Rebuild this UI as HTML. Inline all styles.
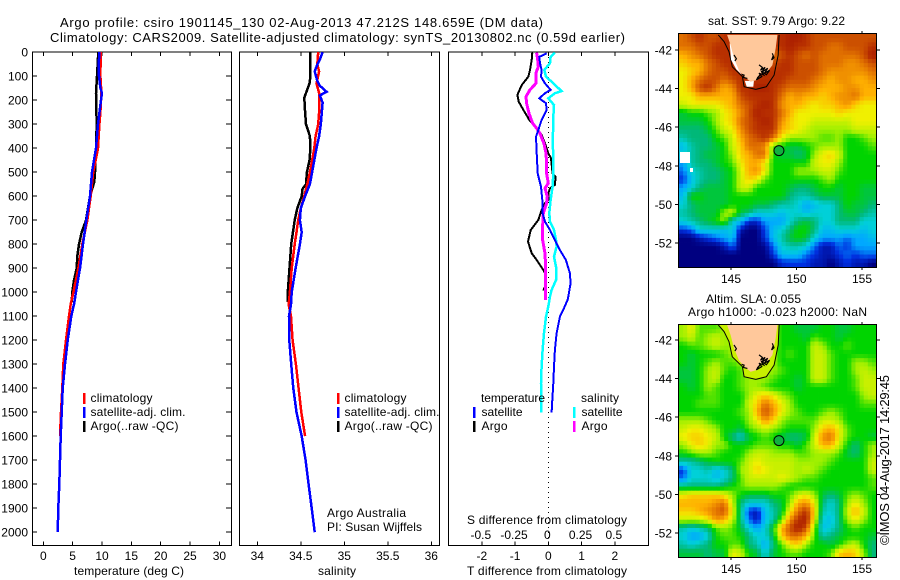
<!DOCTYPE html>
<html>
<head>
<meta charset="utf-8">
<title>Argo profile</title>
<style>
html,body{margin:0;padding:0;background:#fff;}
svg{display:block;}
text{font-family:"Liberation Sans",sans-serif;font-size:12px;fill:#000;}
.t13{font-size:13px;}
.r{text-anchor:end;}
.m{text-anchor:middle;}
</style>
</head>
<body>
<svg id="chart" width="900" height="580" viewBox="0 0 900 580" xmlns="http://www.w3.org/2000/svg">
<defs>
<clipPath id="clipA"><rect x="679" y="34" width="197" height="233"/></clipPath>
<clipPath id="clipB"><rect x="679" y="325" width="197" height="232"/></clipPath>
</defs>
<rect width="900" height="580" fill="#fff"/>

<text class="t13" x="60" y="27" textLength="483">Argo profile: csiro 1901145_130 02-Aug-2013 47.212S 148.659E (DM data)</text>
<text class="t13" x="50" y="42" textLength="575">Climatology: CARS2009. Satellite-adjusted climatology: synTS_20130802.nc (0.59d earlier)</text>

<g id="profiles"></g>

<text x="74" y="575" textLength="110">temperature (deg C)</text>
<text x="318" y="575" textLength="38">salinity</text>
<text x="467" y="524" textLength="160">S difference from climatology</text>
<text x="467" y="575" textLength="160">T difference from climatology</text>

<g>
<rect x="83" y="393" width="2.5" height="11" fill="#f00"/>
<text x="90.5" y="402" textLength="62">climatology</text>
<rect x="83" y="407" width="2.5" height="11" fill="#00f"/>
<text x="90.5" y="416" textLength="95">satellite-adj. clim.</text>
<rect x="83" y="421" width="2.5" height="11" fill="#000"/>
<text x="90.5" y="430" textLength="88">Argo(..raw -QC)</text>
</g>
<g>
<rect x="337" y="393" width="2.5" height="11" fill="#f00"/>
<text x="344.5" y="402" textLength="62">climatology</text>
<rect x="337" y="407" width="2.5" height="11" fill="#00f"/>
<text x="344.5" y="416" textLength="95">satellite-adj. clim.</text>
<rect x="337" y="421" width="2.5" height="11" fill="#000"/>
<text x="344.5" y="430" textLength="88">Argo(..raw -QC)</text>
</g>
<text x="327" y="517" textLength="79">Argo Australia</text>
<text x="327" y="531" textLength="95">PI: Susan Wijffels</text>

<g>
<text x="481" y="402" textLength="64">temperature</text>
<text x="581" y="402" textLength="38">salinity</text>
<rect x="473" y="407" width="2.5" height="11" fill="#00f"/>
<text x="481.5" y="416" textLength="41">satellite</text>
<rect x="473" y="421" width="2.5" height="11" fill="#000"/>
<text x="481.5" y="430" textLength="26">Argo</text>
<rect x="573" y="407" width="2.5" height="11" fill="#0ff"/>
<text x="581.5" y="416" textLength="41">satellite</text>
<rect x="573" y="421" width="2.5" height="11" fill="#f0f"/>
<text x="581.5" y="430" textLength="26">Argo</text>
</g>

<g id="mapA"></g>
<g id="mapB"></g>

<text x="708" y="25" textLength="137">sat. SST: 9.79 Argo: 9.22</text>
<text x="706" y="303" textLength="95">Altim. SLA: 0.055</text>
<text x="688" y="316" textLength="179">Argo h1000: -0.023 h2000: NaN</text>
<text class="t13" transform="translate(889,545) rotate(-90)" x="0" y="0" textLength="170">©IMOS 04-Aug-2017 14:29:45</text>
</svg>

<script>
// ---------- axis tick data ----------
const depthTicks = [0,100,200,300,400,500,600,700,800,900,1000,1100,1200,1300,1400,1500,1600,1700,1800,1900,2000];
const tempTicks = [0,5,10,15,20,25,30];
const salTicks = [34,34.5,35,35.5,36];
const salTickLabels = ['34','34.5','35','35.5','36'];
const tDiffTicks = [-2,-1,0,1,2];
const tDiffTickLabels = ['-2','-1','0','1','2'];
const sDiffTickLabels = ['-0.5','-0.25','0','0.25','0.5'];
const lonTicks = [145,150,155];
const latTicks = [-42,-44,-46,-48,-50,-52];

// ---------- temperature profiles ----------
const tempArgoDepth = [0,100,170,300,400,500,540,600,700,750,800,850,900,950,1000,1040];
const tempArgo = [9.37,9.15,8.97,9.1,8.98,8.8,8.69,7.96,7.27,6.54,6.08,5.8,5.69,5.23,4.94,4.84];
const tempClimDepth = [0,100,170,250,300,400,500,600,700,800,900,1000,1050,1100,1200,1300,1400,1500,1600];
const tempClim = [9.78,9.72,9.89,9.72,9.55,9.32,8.5,8.07,7.5,6.65,5.97,5.12,4.67,4.38,3.87,3.41,3.24,3.02,2.85];
const tempSatDepth = [0,50,100,150,170,200,300,400,500,600,700,800,900,1000,1050,1100,1200,1300,1400,1500,1600,1700,1800,1900,2000];
const tempSat = [9.55,9.43,9.49,9.72,10.0,9.83,9.32,8.98,8.3,7.96,7.33,6.76,6.25,5.57,5.23,4.77,4.15,3.7,3.3,3.13,2.96,2.85,2.73,2.56,2.45];

// ---------- salinity profiles ----------
const salArgoDepth = [0,100,130,170,190,250,300,350,400,450,500,550,570,600,650,700,800,900,1000,1040];
const salArgo = [34.61,34.61,34.6,34.56,34.54,34.55,34.56,34.605,34.61,34.6,34.57,34.56,34.52,34.51,34.46,34.43,34.39,34.37,34.35,34.35];
const salClimDepth = [0,50,80,130,170,250,300,350,400,450,500,550,600,650,700,750,800,900,1000,1050,1100,1200,1300,1400,1500,1600];
const salClim = [34.7,34.69,34.71,34.68,34.71,34.71,34.7,34.67,34.655,34.63,34.605,34.575,34.54,34.5,34.47,34.45,34.43,34.395,34.375,34.36,34.387,34.406,34.444,34.475,34.506,34.55];
const salSatDepth = [0,30,60,80,120,140,165,180,210,300,350,400,500,550,600,650,700,750,800,900,1000,1050,1100,1200,1300,1400,1500,1600,1700,1800,1900,2000];
const salSat = [34.75,34.72,34.68,34.66,34.69,34.72,34.797,34.72,34.75,34.73,34.71,34.68,34.63,34.605,34.55,34.5,34.49,34.51,34.49,34.44,34.395,34.387,34.364,34.368,34.39,34.414,34.45,34.51,34.555,34.59,34.625,34.66];

// ---------- difference profiles ----------
const tDiffArgoDepth = [2,32,74,102,137,178,206,241,282,317,345,380,421,442,505,519,553,567,588,616,630,657,699,741,789,838,866,907,921,977,993];
const tDiffArgo = [-0.48,-0.5,-0.55,-0.6,-0.8,-0.93,-0.89,-0.75,-0.57,-0.35,-0.2,-0.1,0,0.08,0.13,0.22,0.2,0.05,0,0,-0.1,-0.2,-0.3,-0.53,-0.61,-0.5,-0.35,-0.15,-0.1,-0.1,-0.15];
const tDiffSatDepth = [5,19,46,74,102,130,157,171,192,213,241,282,324,352,421,505,560,616,671,706,741,782,824,866,921,963,1018,1032,1067,1102,1171,1241,1310,1380,1449,1502];
const tDiffSat = [-0.05,-0.27,-0.25,-0.2,-0.22,-0.1,0.07,-0.1,-0.27,-0.07,-0.05,-0.2,-0.3,-0.37,-0.35,-0.32,-0.22,-0.18,-0.17,-0.1,0.05,0.2,0.35,0.53,0.65,0.67,0.6,0.58,0.47,0.35,0.25,0.2,0.17,0.15,0.12,0.1];
const sDiffSatDepth = [2,19,46,74,102,123,143,162,171,192,220,269,310,366,435,505,560,616,671,706,741,782,810,852,894,949,991,1018,1060,1102,1171,1241,1310,1380,1502];
const sDiffSat = [0.05,0.0175,0.0125,-0.03,-0.0175,0.025,0.0626,0.1,0.05,0,0.0426,0.0376,0.0376,0.0326,0.0376,0.0376,0.0326,0.0175,0.0075,0.0125,0.0426,0.0576,0.0627,0.0426,0.0576,0.0576,0.025,0.0125,0,-0.0175,-0.0326,-0.0426,-0.05,-0.055,-0.055];
const sDiffArgoDepth = [2,32,60,88,130,157,185,213,255,296,317,338,380,421,463,505,546,567,602,630,671,727,782,838,894,949,1033];
const sDiffArgo = [-0.088,-0.08,-0.075,-0.093,-0.093,-0.138,-0.168,-0.163,-0.145,-0.118,-0.088,-0.063,-0.033,-0.0175,-0.0125,-0.0125,0,-0.025,-0.0075,-0.0125,-0.0376,-0.0426,-0.0426,-0.025,-0.02,-0.0225,-0.0225];

// ---------- map grids (colour-scale index, north to south, west to east) ----------
const sstGrid = [
[9,9.5,10,9.5,9.5,10,10,10,10,10,10,10,10,10.5,10.5,10,9.5,9.5,9.5,9.5,9.5,9.5,9.5,9.5],
[9,9,9.5,9.5,10,10,10,10,10,10,10,10,10,10.5,10,10,9.5,9.5,9,9,9.5,9.5,9.5,10],
[8,8.5,9,9.5,10,10,10,10,10,10,10,9,9.5,10,9.5,9,9.5,9,9,9,9,9,9.5,10.5],
[7.5,8,8,9,9.5,10,10,10,10,10,10,9.5,10,10,9.5,9.5,9.5,9,9,9,8.5,8.5,9,9.5],
[7,7.5,8,9,9.5,9.5,10,10,10,10,10,10,10,10,9.5,9.5,9.5,9,8.5,8.5,8.5,8.5,8.5,9],
[7,8,9,9.5,9.5,9,9.5,10,10,10,10,10,10,9.5,9.5,9.5,9,8.5,8,8.5,8.5,8,8,8.5],
[7,8,9.5,10,9,8,8.5,10,10,10.5,10.5,10,9.5,9,9,9,8.5,8,8,8,8.5,8.5,8,8],
[7,7,8,8,8,8,8,9.5,10,10,10,10,9,8,8.5,8,8,7.5,8,8.5,8.5,9,8,8],
[6.5,7,7,7,7,7.5,8,9,9.5,10,10.5,10,8.5,8,8,7.5,7,7.5,7.5,8,8.5,7.5,7,7],
[4.5,5,5,5.5,6,7,7.5,8.5,9.5,10.5,10,10,9,8,7,7,7,7,7,7.5,7,7,7,7],
[4.5,4.5,4.5,5,6,7,7.5,9,9.5,10,10.5,10,8.5,7.5,7,7,6.5,6.5,6.5,6.5,6.5,7,7,7],
[4,4,4,4.5,5.5,6.5,7,8.5,9.5,10,10,10,8,7.5,7,6.5,6,6,6,6,6,6.5,6.5,6.5],
[3.5,4,4,4,5,5.5,6.5,8,9,9.5,10,9,7,6,6,6,6,5.5,5.5,6,5,5,5.5,6],
[2.5,3.5,4,4,4.5,5,6.5,7.5,9,9,8.5,5.5,5,4.5,4.5,5,5.5,6,6,6,5,5,5,5.5],
[3,3.5,4,4.5,4.5,5,6,7.5,8,9,9,5,4.5,4.5,4,4.5,6,7,7.5,6.5,5,5,5,5],
[2,3.5,4,4,4.5,5,5.5,7,8,8,7,5,5,5,5,5,6.5,7,7,6,5,5,5,5],
[1.5,3,3.5,4,4,4.5,5,6.5,8,8.5,7,5,5,5,6,6,6,6.5,6.5,5.5,5,5,5,5],
[1,2.5,3.5,4,4,4.5,5,6.5,7.5,7,5.5,5,5,5,5,5,5,5.5,6,5,5,5,5,5],
[2,3,4,4.5,4.5,4.5,5,6.5,6.5,5,5,5,5,4.5,4,4,4.5,5,5,4.5,5,5,4.5,4.5],
[2.5,5,5,4.5,4.5,4.5,5,5,5,5,5,5,5,4,3.5,3.5,4,4.5,4.5,4.5,5,5,4.5,4.5],
[3,4,4.5,4.5,4.5,4.5,5,5,5,4.5,4.5,4,3.5,3.5,3,2,2.5,3,3,4,5,4.5,4.5,4],
[3.5,4,4.5,4.5,4.5,6,6.5,4.5,4,3,3,3,2.5,3,3,2.5,3,3,3,4,4.5,4.5,4,3.5],
[3,3.5,4,4.5,5,6,3,2.5,0.8,0.8,2,2,2,3,4,4.5,4,3,3,4,4,4,3,3],
[1,1.5,3,3,3,2.5,3,0.5,0,0,1.2,2.5,3,4,5,5,4,2.5,2.5,3,3,3,2.5,3],
[0,0,0.5,1,1.5,2,2.5,0,0,0,1,2.5,3.5,4.5,5,4.5,3,2,2,2,1.5,2,2,2.5],
[0,0,0,0,0,0.5,1.5,0,0,0,0.2,1.5,3,3.5,3.5,3,1.5,0.5,0.5,1.5,1,2,2,2],
[0,0,0,0,0,0,0,0,0,0,0,1,2.5,2.5,2.5,1.5,1,0.5,0.5,1,1.5,1,1.5,1.5],
[0,0,0,0,0,0,0,0,0,0,0,0,0.8,1,1,1,0.5,0.5,0,0.5,1,0.5,0.5,0]
];
const slaGrid = [
[6,7,5.5,5.5,5.5,6,6,6,6,6,6,6,5,5,4.5,4.5,4.5,5,5,4.5,4.5,5,5,5],
[6,6.5,5.5,6,6.5,6,6,6,6,6,6,6,5,5,5,4.5,5.5,5,5,4.5,5,5,5,5],
[5,5.5,5.5,6,6.5,6,6,6,6,6,6,6,5,5,5,5,6.5,6,5,5,5.5,5,5,5],
[5,4.5,5,5,5,5.5,6,6,6,6,6,6,5,5.5,5,5,6.5,6.5,5.5,5,5,5,5,5],
[5,4.5,5,5.5,6,5.5,5.5,6,6,6,6,6,5,5,5,5,6.5,6.5,5.5,5,5,6,6,5.5],
[4.5,4.5,5,6,6.5,5.5,5,5.5,6,6,6,6,5.5,5,5,5,6.5,6.5,5.5,5,5,6,6.5,6],
[4.5,4.5,5,6,6.5,5,5,5.5,6,6,6,5.5,5,5,4.5,5,6.5,6.5,5.5,5,5,5.5,6.5,6.5],
[5,4.5,5,6,5.5,5,5,5.5,6,6,5.5,5,5,5,4.5,5,5,5,5,5,5,5.5,6.5,6.5],
[5,5,5,5.5,5.5,5,5,5,6,7,7.5,7,6,5.5,5,5,5,5,5,5,5,5,6,6.5],
[5,5,5.5,5.5,5.5,5,5,5,6.5,7.5,9,8,7,6,5,5,5,5,5,5,5,5,5.5,5.5],
[5,5,5,5,5,5,5,5.5,6,8,9.5,8.5,7,6,5.5,5,5,5.5,6,5.5,5,5,5,5],
[6,6,6,5.5,5,5,5,5,6,7,8.5,7.5,6,5.5,5.5,5.5,5.5,6.5,6.5,6,5,5,5,5],
[6.5,7,7,6.5,6,5,5,4.5,5.5,6,6.5,6,5.5,5,5,5,6,7.5,8,7,5.5,5,5,5],
[7,7.5,7.5,7,6.5,5,4,3,4.5,5,5.5,5,4.5,4,4,4.5,6.5,8.5,9,7,5.5,5,5,4.5],
[6,7,7.5,7,6,6,5,5,5,5.5,5.5,5.5,5,5,4.5,5.5,6.5,8,8,6.5,5,4,5,6],
[5,5.5,6,6,5.5,5,5,5,6,6.5,6.5,6,6,6,5.5,5.5,6,6,6,5.5,4.5,4,5,6],
[3.5,3.5,4,4.5,5,5,5,5.5,6.5,7,6.5,6.5,6.5,6.5,6,6,6,6,5.5,5,5,5,5,6.5],
[1,3,3,3.5,2.5,3,4,6,6.5,7.5,7,6.5,6.5,6.5,6,6.5,6,5.5,5,5,5,5,5,6.5],
[1.5,3,3,3,2.5,3,4,5.5,6.5,6.5,6.5,6.5,7,6.5,6,5.5,5.5,5,5,5,5,5,5,5.5],
[4,4,4,4,4,4.5,5,5.5,6,6,6,6,5.5,5,5,5,5,5,5,5,5,5,5,5.5],
[7,7.5,7.5,7.5,7.5,7,6,5,4.5,4.5,4.5,5,5,5.5,6.5,7,6,4.5,4,4.5,5.5,6,5.5,5],
[8,8,8,8,8.5,9,6.5,4,3,3,3,4,4.5,6,8,8.5,7,4,3,4,6,7,6,5],
[7.5,7.5,8,8.5,9,9.5,7,4,1,0.5,2.5,3.5,4.5,7,9,10,7.5,3.5,3,4,6.5,8,6.5,5],
[6.5,6.5,6.5,7,8.5,8,6.5,4,1.5,0.5,2.5,3.5,5.5,8.5,10,10.5,7,3,2.5,4,6,7,6,5],
[3.5,3,3.5,4,5.5,6,5.5,4.5,3,2,3,5,8,9.5,10.5,9.5,6,2.5,3,4,5,5.5,5,5],
[3,2,2,3,5,5.5,5.5,5,4,3,3,4.5,7.5,9,9,8,5.5,3.5,4,4.5,5,5,5,4.5],
[3.5,3,3.5,4,5,5,5.5,5.5,4,3.5,2,4,5.5,7,7.5,6,5,5,4.5,5,6,6.5,5,4],
[4.5,4.5,4.5,4,4.5,4.5,7,6.5,5,4.5,3,4.5,5,5.5,5.5,5,5,5,5.5,7.5,8,7.5,6,4]
];

// ---------- geography ----------
const coastLon = [144.7,148.54,148.41,148.16,147.78,147.27,147.01,146.5,146.0,145.6,145.23,144.97];
const coastLat = [-41.22,-41.22,-41.91,-42.78,-43.12,-43.21,-43.55,-43.64,-43.38,-43.04,-42.43,-41.74];
const shelfLon = [144.03,144.47,144.85,145.1,145.87,146.0,146.89,147.7,148.29,148.6,148.67];
const shelfLat = [-41.22,-41.57,-42.09,-42.87,-43.38,-43.9,-44.04,-43.9,-43.3,-42.26,-41.22];
const islandLon = [147.14,147.4,147.25,147.6,147.35,147.8,147.55,147.95,147.7,147.3,147.5,147.14,147.35,146.93,147.2,147.0,null,145.81,146.0,145.95,146.25,null,148.15,148.28,148.1,148.22,null,145.23,145.41,145.3];
const islandLat = [-42.77,-42.9,-43.05,-42.9,-43.15,-42.95,-43.2,-43.05,-43.28,-43.1,-43.3,-43.2,-43.38,-43.55,-43.3,-43.45,null,-43.26,-43.3,-43.42,-43.47,null,-42.17,-42.4,-42.52,-42.3,null,-42.26,-42.45,-42.57];
const gapWestLon = [144.9,145.1,145.25,145.62,145.85,145.4,145.0];
const gapWestLat = [-41.65,-41.75,-42.43,-43.04,-43.3,-43.0,-42.5];
const gapTipLon = [146.05,146.75,146.7,146.2];
const gapTipLat = [-43.6,-43.6,-43.9,-43.9];
const profileLon = 148.659;
const profileLat = -47.212;

// ---------- drawing ----------
const NS = 'http://www.w3.org/2000/svg';
const PANEL_TOP = 52, PANEL_BOTTOM = 545.5;
const yDepth = d => 52.2 + 0.24 * d;
const xTemp = t => 43.3 + 5.87 * t;
const xSal = s => 257.3 + 87 * (s - 34);
const xDiffT = t => 548.3 + 33.25 * t;
const xDiffS = s => 548.3 + 133 * s;

function mk(parent, tag, attrs) {
  const e = document.createElementNS(NS, tag);
  for (const k in attrs) e.setAttribute(k, attrs[k]);
  parent.appendChild(e);
  return e;
}
const prof = document.getElementById('profiles');

function drawLine(depths, vals, xf, color, width, name) {
  const pts = depths.map((d, i) => xf(vals[i]).toFixed(1) + ',' + yDepth(d).toFixed(1)).join(' ');
  const p = mk(prof, 'polyline', {points: pts, fill: 'none', stroke: color, 'stroke-width': width, 'shape-rendering': 'crispEdges'});
  
  
}

function drawFrame(x0, x1, name) {
  const r = mk(prof, 'rect', {x: x0, y: PANEL_TOP, width: x1 - x0, height: PANEL_BOTTOM - PANEL_TOP, fill: 'none', stroke: '#000', 'stroke-width': 1, 'shape-rendering': 'crispEdges'});
  
  
}

function drawXTicks(ticks, labels, xf, y, name) {
  ticks.forEach((t, i) => {
    const x = xf(t);
    [[PANEL_TOP, PANEL_TOP + 4], [PANEL_BOTTOM - 4, PANEL_BOTTOM]].forEach(seg => {
      const l = mk(prof, 'line', {x1: x, x2: x, y1: seg[0], y2: seg[1], stroke: '#000', 'shape-rendering': 'crispEdges'});
      
      
    });
    const tx = mk(prof, 'text', {x: x, y: y, class: 'm'});
    tx.textContent = labels[i];
    
    
  });
}

function drawSLabels() {
  tDiffTicks.forEach((t, i) => {
    const tx = mk(prof, 'text', {x: xDiffT(t) - 1, y: 539, class: 'm'});
    tx.textContent = sDiffTickLabels[i];
    
    
  });
}

function drawDepthTicks() {
  depthTicks.forEach(d => {
    const y = yDepth(d);
    [[32, 37], [226, 231]].forEach(seg => {
      const l = mk(prof, 'line', {x1: seg[0], x2: seg[1], y1: y, y2: y, stroke: '#000', 'shape-rendering': 'crispEdges'});
      
      
    });
    const tx = mk(prof, 'text', {x: 28, y: y + 4.5, class: 'r'});
    tx.textContent = d;
    
    
  });
}

// temperature panel
drawFrame(32.5, 231.5, 'temperature-panel-frame');
drawDepthTicks();
drawXTicks(tempTicks, tempTicks.map(String), xTemp, 560, 'temperature-axis');
drawLine(tempArgoDepth, tempArgo, xTemp, '#000', 2.5, 'temperature-argo-line');
drawLine(tempClimDepth, tempClim, xTemp, '#f00', 2.5, 'temperature-climatology-line');
drawLine(tempSatDepth, tempSat, xTemp, '#00f', 2.5, 'temperature-satellite-line');

// salinity panel
drawFrame(239.5, 439.5, 'salinity-panel-frame');
drawXTicks(salTicks, salTickLabels, xSal, 560, 'salinity-axis');
drawLine(salArgoDepth, salArgo, xSal, '#000', 2.5, 'salinity-argo-line');
drawLine(salClimDepth, salClim, xSal, '#f00', 2.5, 'salinity-climatology-line');
drawLine(salSatDepth, salSat, xSal, '#00f', 2.5, 'salinity-satellite-line');

// difference panel
drawFrame(448.5, 648.5, 'difference-panel-frame');
drawXTicks(tDiffTicks, tDiffTickLabels, xDiffT, 560, 't-diff-axis');
drawSLabels();
const zero = mk(prof, 'line', {x1: xDiffT(0), x2: xDiffT(0), y1: PANEL_TOP, y2: PANEL_BOTTOM, stroke: '#000', 'stroke-width': 1, 'stroke-dasharray': '1 4', 'shape-rendering': 'crispEdges'});


drawLine(tDiffArgoDepth, tDiffArgo, xDiffT, '#000', 2, 't-diff-argo-line');
drawLine(sDiffSatDepth, sDiffSat, xDiffS, '#0ff', 2.5, 's-diff-satellite-line');
drawLine(sDiffArgoDepth, sDiffArgo, xDiffS, '#f0f', 3, 's-diff-argo-line');
drawLine(tDiffSatDepth, tDiffSat, xDiffT, '#00f', 2, 't-diff-satellite-line');

// maps
const ramp = [[0,0,128],[0,48,224],[0,168,255],[0,208,216],[0,184,120],[0,212,0],[160,240,0],[240,240,0],[255,176,0],[224,112,0],[184,48,0],[160,16,0]];
function colorOf(v) {
  const c = Math.max(0, Math.min(ramp.length - 1.001, v));
  const i = Math.floor(c), f = c - i;
  const a = ramp[i], b = ramp[i + 1];
  return 'rgb(' + [0, 1, 2].map(k => Math.round(a[k] + (b[k] - a[k]) * f)).join(',') + ')';
}
// grid value at fractional row/column position
function gridValue(grid, u, v) {
  const rows = grid.length, cols = grid[0].length;
  const ru = Math.max(0, Math.min(rows - 1, u)), cv = Math.max(0, Math.min(cols - 1, v));
  const r0 = Math.floor(ru), c0 = Math.floor(cv);
  const r1 = Math.min(rows - 1, r0 + 1), c1 = Math.min(cols - 1, c0 + 1);
  const fr = ru - r0, fc = cv - c0;
  return (grid[r0][c0] * (1 - fc) + grid[r0][c1] * fc) * (1 - fr) + (grid[r1][c0] * (1 - fc) + grid[r1][c1] * fc) * fr;
}

function drawMap(id, grid, x0, y0, w, h, lat42Y, clip, landFillShelf, nameBase, showGaps) {
  const g = document.getElementById(id);
  const lonX = lon => 731 + 13.1 * (lon - 145);
  const latY = lat => lat42Y + 19.3 * (-42 - lat);
  const clipG = mk(g, 'g', {'clip-path': 'url(#' + clip + ')'});
  
  
  const SUB = 2;
  const nr = grid.length * SUB, nc = grid[0].length * SUB;
  const cw = w / nc, ch = h / nr;
  for (let r = 0; r < nr; r++) {
    for (let c = 0; c < nc; c++) {
      const v = gridValue(grid, (r + 0.5) / SUB - 0.5, (c + 0.5) / SUB - 0.5);
      const cell = mk(clipG, 'rect', {x: (x0 + c * cw).toFixed(2), y: (y0 + r * ch).toFixed(2), width: (cw + 0.4).toFixed(2), height: (ch + 0.4).toFixed(2), fill: colorOf(v)});
      
      
    }
  }
  const poly = (lons, lats) => lons.map((l, i) => lonX(l).toFixed(1) + ',' + latY(lats[i]).toFixed(1)).join(' ');
  const shelf = mk(clipG, 'polyline', {points: poly(shelfLon, shelfLat), fill: landFillShelf, stroke: '#000', 'stroke-width': 1});
  
  
  if (showGaps) {
    const gw = mk(clipG, 'polygon', {points: poly(gapWestLon, gapWestLat), fill: '#fff'});
    
    
    const gt = mk(clipG, 'polygon', {points: poly(gapTipLon, gapTipLat), fill: '#fff'});
    
    
    const m1 = mk(clipG, 'rect', {x: 680, y: 152, width: 10, height: 11, fill: '#fff'});
    
    
    const m2 = mk(clipG, 'rect', {x: 690, y: 168, width: 3, height: 4, fill: '#fff'});
    
    
  }
  const land = mk(clipG, 'polygon', {points: poly(coastLon, coastLat), fill: '#ffc89b'});
  
  
  let d = '', pen = false;
  islandLon.forEach((l, i) => {
    if (l === null) { pen = false; return; }
    d += (pen ? 'L' : 'M') + lonX(l).toFixed(1) + ' ' + latY(islandLat[i]).toFixed(1);
    pen = true;
  });
  const isl = mk(clipG, 'path', {d: d, fill: 'none', stroke: '#000', 'stroke-width': 1.2});
  
  
  const frame = mk(g, 'rect', {x: x0 - 0.5, y: y0 - 0.5, width: w + 1, height: h + 1, fill: 'none', stroke: '#000', 'shape-rendering': 'crispEdges'});
  
  
  lonTicks.forEach(l => {
    const x = lonX(l);
    [[y0 - 3, y0], [y0 + h, y0 + h + 3]].forEach(s => {
      const t = mk(g, 'line', {x1: x, x2: x, y1: s[0], y2: s[1], stroke: '#000', 'shape-rendering': 'crispEdges'});
      
      
    });
    const tx = mk(g, 'text', {x: x, y: y0 + h + 16, class: 'm'});
    tx.textContent = l;
    
    
  });
  latTicks.forEach(l => {
    const y = latY(l);
    [[x0 - 4, x0], [x0 + w, x0 + w + 4]].forEach(s => {
      const t = mk(g, 'line', {x1: s[0], x2: s[1], y1: y, y2: y, stroke: '#000', 'shape-rendering': 'crispEdges'});
      
      
    });
    const tx = mk(g, 'text', {x: x0 - 7, y: y + 4.5, class: 'r'});
    tx.textContent = l;
    
    
  });
  const m = mk(g, 'circle', {cx: lonX(profileLon), cy: latY(profileLat), r: 5, fill: '#10b040', stroke: '#000', 'stroke-width': 1});
  
  
}
drawMap('mapA', sstGrid, 679, 34, 197, 233, 50, 'clipA', 'none', 'sst-map', true);
drawMap('mapB', slaGrid, 679, 325, 197, 232, 340, 'clipB', '#c8f000', 'sla-map', false);
</script>
</body>
</html>
